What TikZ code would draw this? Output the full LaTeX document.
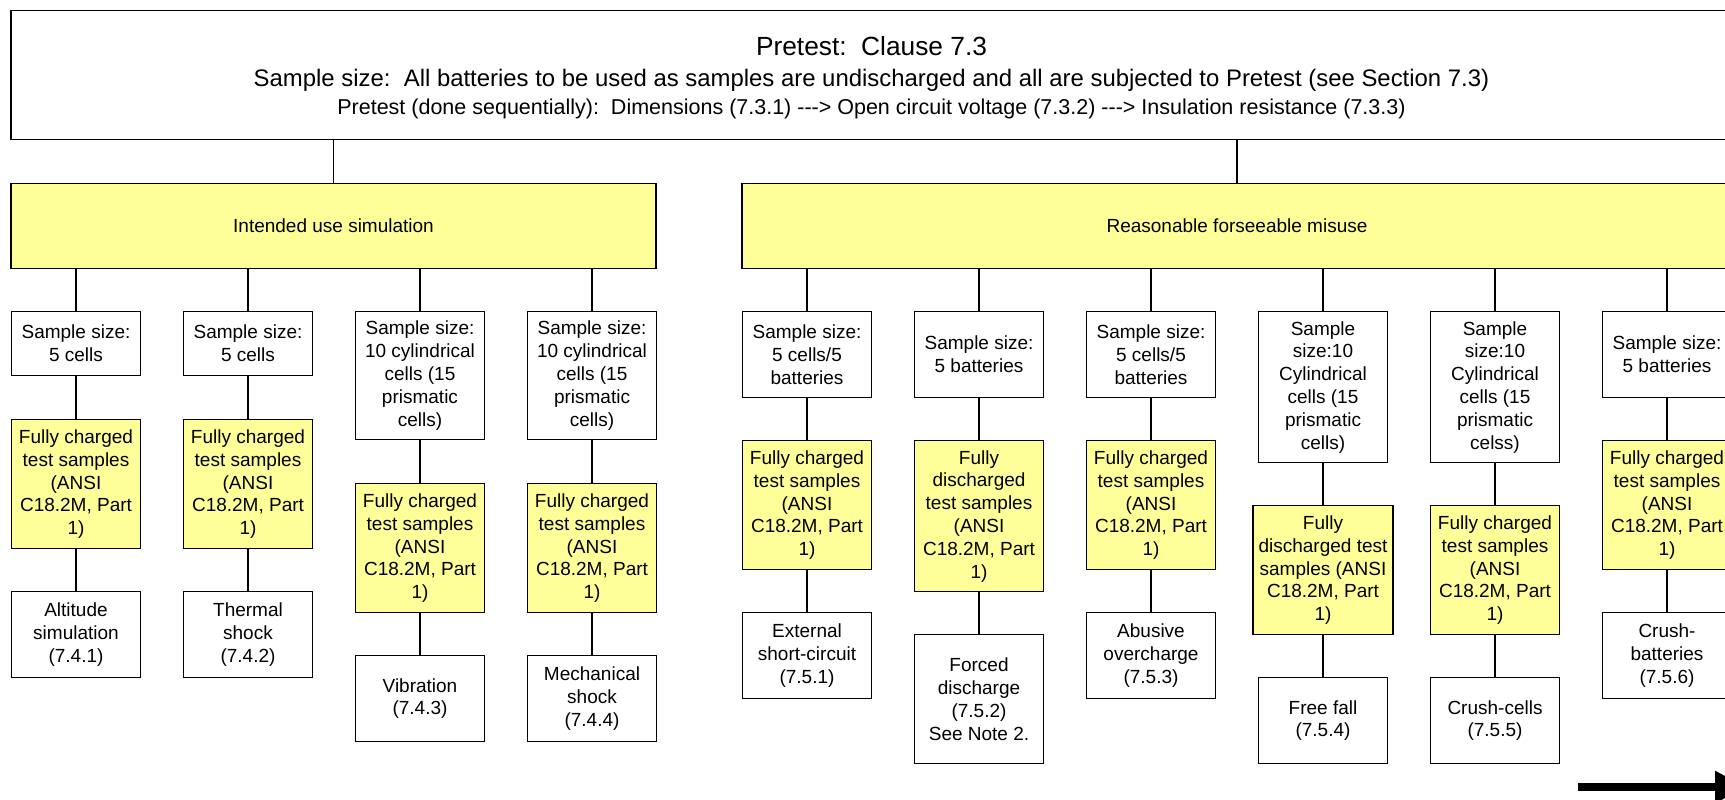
\documentclass[tikz,border=0pt]{standalone}
\usepackage{fontspec}
\setmainfont{Liberation Sans}
\usepackage{tikz}
\usetikzlibrary{arrows.meta, calc}
\definecolor{boxyellow}{RGB}{255,255,153}

\tikzset{
  box/.style={draw=black, line width=1.2pt, fill=white, align=center, anchor=north,
    inner sep=0pt, minimum width=129pt, font=\fontsize{19}{22.8}\selectfont},
  ybox/.style={box, fill=boxyellow},
  link/.style={draw=black, line width=1.2pt},
}

\begin{document}
\begin{tikzpicture}[x=1pt, y=-1pt]
  \useasboundingbox (0,0) rectangle (1725,800);

  % Pretest box on top
  \node[box, minimum width=1721pt, minimum height=129pt] (pretest) at (871.5,10) {};
  \node[anchor=base, font=\fontsize{26.3}{30}\selectfont] (ptitle) at (871.5,56) {Pretest:\ \ Clause 7.3};
  \node[anchor=base, font=\fontsize{23.9}{28}\selectfont] (psize) at (871.5,87) {Sample size:\ \ All batteries to be used as samples are undischarged and all are subjected to Pretest (see Section 7.3)};
  \node[anchor=base, font=\fontsize{21.5}{25}\selectfont] (pseq) at (871.5,114) {Pretest (done sequentially):\ \ Dimensions (7.3.1) {-}{-}{-}> Open circuit voltage (7.3.2) {-}{-}{-}> Insulation resistance (7.3.3)};

  % The two groups of tests
  \node[ybox, minimum width=645pt, minimum height=85pt] (intended) at (333.5,183) {Intended use simulation};
  \node[ybox, minimum width=990pt, minimum height=85pt] (misuse) at (1237,183) {Reasonable forseeable misuse};

  % Intended use simulation
  \node[box, minimum height=64pt] (s1) at (76,311) {Sample size:\\5 cells};
  \node[ybox, minimum height=129pt] (y1) at (76,419) {Fully charged\\test samples\\(ANSI\\C18.2M, Part\\1)};
  \node[box, minimum height=86pt] (r1) at (76,591) {Altitude\\simulation\\(7.4.1)};

  \node[box, minimum height=64pt] (s2) at (248,311) {Sample size:\\5 cells};
  \node[ybox, minimum height=129pt] (y2) at (248,419) {Fully charged\\test samples\\(ANSI\\C18.2M, Part\\1)};
  \node[box, minimum height=86pt] (r2) at (248,591) {Thermal\\shock\\(7.4.2)};

  \node[box, minimum height=128pt] (s3) at (420,311) {Sample size:\\10 cylindrical\\cells (15\\prismatic\\cells)};
  \node[ybox, minimum height=129pt] (y3) at (420,483) {Fully charged\\test samples\\(ANSI\\C18.2M, Part\\1)};
  \node[box, minimum height=86pt] (r3) at (420,655) {Vibration\\(7.4.3)};

  \node[box, minimum height=128pt] (s4) at (592,311) {Sample size:\\10 cylindrical\\cells (15\\prismatic\\cells)};
  \node[ybox, minimum height=129pt] (y4) at (592,483) {Fully charged\\test samples\\(ANSI\\C18.2M, Part\\1)};
  \node[box, minimum height=86pt] (r4) at (592,655) {Mechanical\\shock\\(7.4.4)};

  % Reasonable forseeable misuse
  \node[box, minimum height=86pt] (s5) at (807,311) {Sample size:\\5 cells/5\\batteries};
  \node[ybox, minimum height=129pt] (y5) at (807,440) {Fully charged\\test samples\\(ANSI\\C18.2M, Part\\1)};
  \node[box, minimum height=86pt] (r5) at (807,612) {External\\short-circuit\\(7.5.1)};

  \node[box, minimum height=86pt] (s6) at (979,311) {Sample size:\\5 batteries};
  \node[ybox, minimum height=151pt] (y6) at (979,440) {Fully\\discharged\\test samples\\(ANSI\\C18.2M, Part\\1)};
  \node[box, minimum height=129pt] (r6) at (979,634) {Forced\\discharge\\(7.5.2)\\See Note 2.};

  \node[box, minimum height=86pt] (s7) at (1151,311) {Sample size:\\5 cells/5\\batteries};
  \node[ybox, minimum height=129pt] (y7) at (1151,440) {Fully charged\\test samples\\(ANSI\\C18.2M, Part\\1)};
  \node[box, minimum height=86pt] (r7) at (1151,612) {Abusive\\overcharge\\(7.5.3)};

  \node[box, minimum height=151pt] (s8) at (1323,311) {Sample\\size:10\\Cylindrical\\cells (15\\prismatic\\cells)};
  \node[ybox, minimum height=129pt, minimum width=140pt] (y8) at (1323,505) {Fully\\discharged test\\samples (ANSI\\C18.2M, Part\\1)};
  \node[box, minimum height=86pt] (r8) at (1323,677) {Free fall\\(7.5.4)};

  \node[box, minimum height=151pt] (s9) at (1495,311) {Sample\\size:10\\Cylindrical\\cells (15\\prismatic\\celss)};
  \node[ybox, minimum height=129pt] (y9) at (1495,505) {Fully charged\\test samples\\(ANSI\\C18.2M, Part\\1)};
  \node[box, minimum height=86pt] (r9) at (1495,677) {Crush-cells\\(7.5.5)};

  \node[box, minimum height=86pt] (s10) at (1667,311) {Sample size:\\5 batteries};
  \node[ybox, minimum height=129pt] (y10) at (1667,440) {Fully charged\\test samples\\(ANSI\\C18.2M, Part\\1)};
  \node[box, minimum height=86pt] (r10) at (1667,612) {Crush-\\batteries\\(7.5.6)};

  % Connectors
  \draw[link] (pretest.south -| intended.north) -- (intended.north);
  \draw[link] (pretest.south -| misuse.north) -- (misuse.north);

  \draw[link] (intended.south -| s1.north) -- (s1.north) (s1.south) -- (y1.north) (y1.south) -- (r1.north);
  \draw[link] (intended.south -| s2.north) -- (s2.north) (s2.south) -- (y2.north) (y2.south) -- (r2.north);
  \draw[link] (intended.south -| s3.north) -- (s3.north) (s3.south) -- (y3.north) (y3.south) -- (r3.north);
  \draw[link] (intended.south -| s4.north) -- (s4.north) (s4.south) -- (y4.north) (y4.south) -- (r4.north);

  \draw[link] (misuse.south -| s5.north) -- (s5.north) (s5.south) -- (y5.north) (y5.south) -- (r5.north);
  \draw[link] (misuse.south -| s6.north) -- (s6.north) (s6.south) -- (y6.north) (y6.south) -- (r6.north);
  \draw[link] (misuse.south -| s7.north) -- (s7.north) (s7.south) -- (y7.north) (y7.south) -- (r7.north);
  \draw[link] (misuse.south -| s8.north) -- (s8.north) (s8.south) -- (y8.north) (y8.south) -- (r8.north);
  \draw[link] (misuse.south -| s9.north) -- (s9.north) (s9.south) -- (y9.north) (y9.south) -- (r9.north);
  \draw[link] (misuse.south -| s10.north) -- (s10.north) (s10.south) -- (y10.north) (y10.south) -- (r10.north);

  % Arrow at the bottom right
  \coordinate (arrowstart) at (1578,787);
  \coordinate (arrowend) at (1747,787);
  \draw[line width=8pt, -{Triangle[length=32pt, width=30pt]}] (arrowstart) -- (arrowend);
\end{tikzpicture}
\end{document}
